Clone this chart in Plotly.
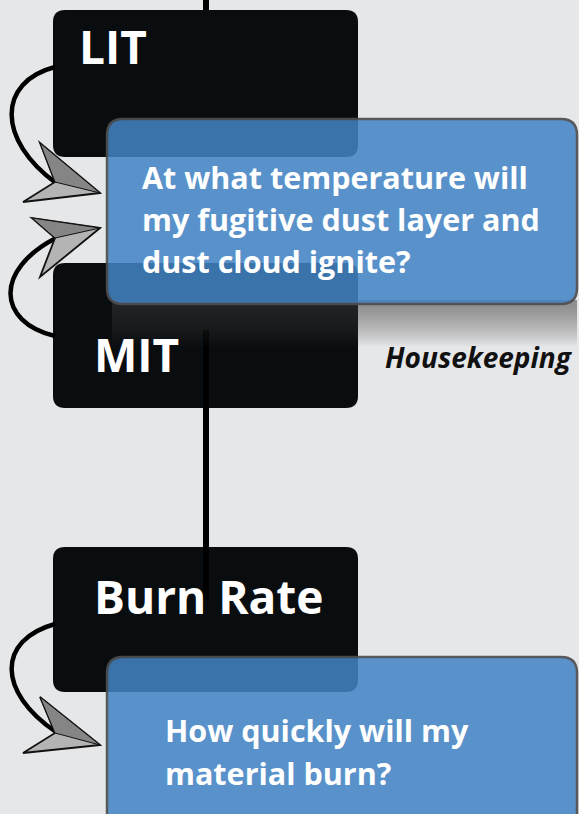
import plotly.graph_objects as go

# ---- content (data) ----
step_labels = ["LIT", "MIT", "Burn Rate"]
question_1 = ["At what temperature will", "my fugitive dust layer and", "dust cloud ignite?"]
question_2 = ["How quickly will my", "material burn?"]
side_labels = ["Housekeeping", "AND"]

W, H = 579, 814
BG = "#e6e7e8"
BOX = "#0a0d0f"
BLUE = "rgba(66,132,196,0.92)"
FONT = "Open Sans"

fig = go.Figure()
shapes = []
ann = []


def rrect(x0, y0, x1, y1, r):
    return (f"M {x0+r},{y0} L {x1-r},{y0} Q {x1},{y0} {x1},{y0+r} "
            f"L {x1},{y1-r} Q {x1},{y1} {x1-r},{y1} L {x0+r},{y1} "
            f"Q {x0},{y1} {x0},{y1-r} L {x0},{y0+r} Q {x0},{y0} {x0+r},{y0} Z")


# connector lines
shapes.append(dict(type="line", x0=206, x1=206, y0=-5, y1=100,
                   line=dict(color="#000", width=6), layer="above"))

# black step boxes
box_y = [(10, 157), (263, 408), (547, 692)]
for (y0, y1) in box_y:
    shapes.append(dict(type="path", path=rrect(53, y0, 358, y1, 12),
                       fillcolor=BOX, line=dict(width=0), layer="above"))

shapes.append(dict(type="line", x0=206, x1=206, y0=330, y1=600,
                   line=dict(color="#000", width=6), layer="above"))

# soft shadow below the first blue box
for i in range(16):
    d = 3 + i * 2.6
    shapes.append(dict(type="rect", x0=112, x1=577, y0=300, y1=304 + d,
                       fillcolor="rgba(60,60,60,0.045)", line=dict(width=0), layer="above"))

# blue question boxes
for (y0, y1) in [(119, 304), (657, 840)]:
    shapes.append(dict(type="path", path=rrect(107, y0, 577, y1, 16),
                       fillcolor=BLUE, line=dict(color="#4d4f52", width=2.5),
                       layer="above", opacity=0.93))

# arrows: curves
curves = [
    "M 55,67 C -3,82 -3,140 56,183",
    "M 55,336 C -3,322 -6,270 56,238",
    "M 55,624 C -3,640 -3,692 56,732",
]
for p in curves:
    shapes.append(dict(type="path", path=p, line=dict(color="#000", width=4.5), layer="above"))

heads = [
    [(100, 193), (40, 143), (55, 182), (23, 202)],
    [(100, 228), (32, 218), (55, 238), (40, 277)],
    [(100, 745), (40, 697), (55, 733), (23, 753)],
]
for h in heads:
    tip, b1, notch, b2 = h
    path = f"M {tip[0]},{tip[1]} L {b1[0]},{b1[1]} L {notch[0]},{notch[1]} L {b2[0]},{b2[1]} Z"
    shapes.append(dict(type="path", path=path, fillcolor="#b4b4b4",
                       line=dict(color="#111", width=1.8), layer="above"))
    path2 = f"M {tip[0]},{tip[1]} L {b1[0]},{b1[1]} L {notch[0]},{notch[1]} Z"
    shapes.append(dict(type="path", path=path2, fillcolor="#858585",
                       line=dict(color="#111", width=1.0), layer="above"))

# step labels
label_pos = [(77, 46), (92, 354), (92, 596)]
for t, (x, y) in zip(step_labels, label_pos):
    ann.append(dict(x=x, y=y, text=f"<b>{t}</b>", showarrow=False, xanchor="left",
                    yanchor="middle", font=dict(family=FONT, size=46, color="white")))

# question text
for i, t in enumerate(question_1):
    ann.append(dict(x=140, y=177 + i * 42, text=f"<b>{t}</b>", showarrow=False,
                    xanchor="left", yanchor="middle",
                    font=dict(family=FONT, size=30.5, color="white")))
for i, t in enumerate(question_2):
    ann.append(dict(x=163, y=730 + i * 43, text=f"<b>{t}</b>", showarrow=False,
                    xanchor="left", yanchor="middle",
                    font=dict(family=FONT, size=30.5, color="white")))

# side labels
ann.append(dict(x=383, y=357, text=f"<b><i>{side_labels[0]}</i></b>", showarrow=False,
                xanchor="left", yanchor="middle", font=dict(family=FONT, size=28, color="#111")))
ann.append(dict(x=-4, y=467, text=f"<b><i>{side_labels[1]}</i></b>", showarrow=False,
                xanchor="left", yanchor="middle", font=dict(family=FONT, size=25, color="#111")))

fig.update_layout(
    width=W, height=H, margin=dict(l=0, r=0, t=0, b=0),
    paper_bgcolor=BG, plot_bgcolor=BG,
    xaxis=dict(range=[0, W], visible=False, fixedrange=True),
    yaxis=dict(range=[H, 0], visible=False, fixedrange=True),
    shapes=shapes, annotations=ann, showlegend=False,
)
fig.write_html("out.html", config={"displayModeBar": False},
               post_script="document.body.style.margin='0';document.body.style.background='#e6e7e8';document.body.style.overflow='hidden';")
